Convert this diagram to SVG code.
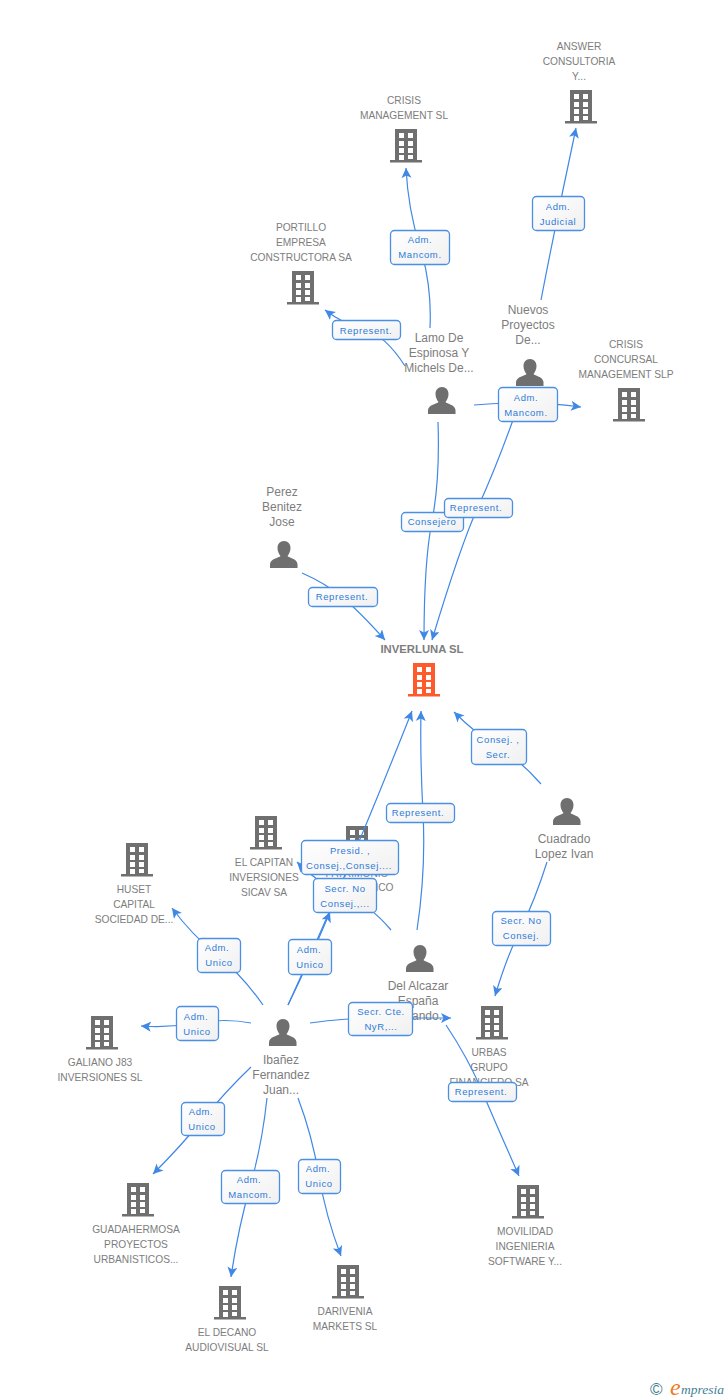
<svg xmlns="http://www.w3.org/2000/svg" xmlns:xlink="http://www.w3.org/1999/xlink" width="728" height="1400" viewBox="0 0 728 1400">
<style>
.l{font-family:"Liberation Sans",Arial,sans-serif;font-size:10.2px;fill:#7d7d7d;text-anchor:middle}
.p{font-family:"Liberation Sans",Arial,sans-serif;font-size:12px;fill:#7d7d7d;text-anchor:middle}
.e{fill:none;stroke:#3f88e6;stroke-width:1.2;marker-end:url(#a)}
.b{fill:url(#g);stroke:#4a8fe6;stroke-width:1.3}
.t{font-family:"Liberation Sans",Arial,sans-serif;font-size:9.5px;letter-spacing:.6px;fill:#2f7bd9;text-anchor:middle}
</style>
<defs>
<linearGradient id="g" x1="0" y1="0" x2="1" y2="1"><stop offset="0" stop-color="#fff"/><stop offset="1" stop-color="#f0f0f0"/></linearGradient>
<marker id="a" markerUnits="userSpaceOnUse" markerWidth="12" markerHeight="12" refX="10" refY="5" orient="auto"><path d="M0 0L10 5L0 10L2.5 5Z" fill="#3f88e6"/></marker>
<symbol id="bld" overflow="visible"><path fill-rule="evenodd" d="M5 0H27V31H32V33.500H0V31H5ZM9 4V9H14V4ZM18 4V9H23V4ZM9 12V17H14V12ZM18 12V17H23V12ZM9 19V24H14V19ZM18 19V24H23V19ZM9 26V31H14V26ZM18 26V30H23V26Z"/></symbol>
<symbol id="per" overflow="visible"><path d="M14 0C18 0 20.500 3 20.500 7C20.500 10.500 19 13 17.500 15C19 17 27 17.500 27.500 23V27H0V23C.5 17.500 9 17 10.500 15C9 13 7.500 10.500 7.500 7C7.500 3 10 0 14 0Z" fill="#6f6f6f"/></symbol>
</defs>
<rect width="728" height="1400" fill="#fff"/>
<g id="labels-under">
<g id="n-hidden"><use href="#bld" x="341" y="826" fill="#6f6f6f"/><text class="l"><tspan x="357" y="877">PATRIMONIO</tspan><tspan x="357" y="891">GRUPO UNICO</tspan></text></g>
<g id="n-alcazar"><use href="#per" x="406" y="945"/><text class="p"><tspan x="418" y="990">Del Alcazar</tspan><tspan x="418" y="1005">España</tspan><tspan x="418" y="1020">Fernando...</tspan></text></g>
<g id="n-urbas"><use href="#bld" x="476" y="1006" fill="#6f6f6f"/><text class="l"><tspan x="489" y="1056">URBAS</tspan><tspan x="489" y="1071">GRUPO</tspan><tspan x="489" y="1086">FINANCIERO SA</tspan></text></g>
<g id="n-capitan"><use href="#bld" x="250" y="816" fill="#6f6f6f"/><text class="l"><tspan x="264" y="866">EL CAPITAN</tspan><tspan x="264" y="881">INVERSIONES</tspan><tspan x="264" y="896">SICAV SA</tspan></text></g>
<g id="n-nuevos"><use href="#per" x="516" y="359"/><text class="p"><tspan x="528" y="314">Nuevos</tspan><tspan x="528" y="329">Proyectos</tspan><tspan x="528" y="344">De...</tspan></text></g>
</g>
<g id="connectors">
<path class="e" d="M541 300Q558 212 576 128"/>
<path class="e" d="M430 328Q432 285 420 247T406 168"/>
<path class="e" d="M405 366Q385 335 365 330T325 310"/>
<path class="e" d="M474 405Q527 400 581 407"/>
<path class="e" d="M438 422Q440 480 432 521T424 640"/>
<path class="e" d="M513 420Q495 470 478 507T432 640"/>
<path class="e" d="M302 573Q325 583 342 597T385 640"/>
<path class="e" d="M541 784Q520 760 498 747T454 712"/>
<path class="e" d="M417 930Q426 870 423 813T421 711"/>
<path class="e" d="M288 1005Q345 880 412 711"/>
<path class="e" d="M288 1005Q310 960 330 912"/>
<path class="e" d="M391 930Q370 905 345 895T297 862"/>
<path class="e" d="M547 862Q535 900 521 928T495 996"/>
<path class="e" d="M310 1023Q345 1018 380 1018T451 1018"/>
<path class="e" d="M446 1025Q468 1058 482 1091T519 1176"/>
<path class="e" d="M263 1005Q242 975 217 955T172 908"/>
<path class="e" d="M251 1023Q225 1018 197 1023T141 1026"/>
<path class="e" d="M251 1067Q225 1092 203 1119T153 1174"/>
<path class="e" d="M267 1098Q262 1145 250 1187T231 1277"/>
<path class="e" d="M298 1098Q312 1135 319 1176T341 1256"/>
</g>
<g id="n-answer"><use href="#bld" x="565" y="90" fill="#6f6f6f"/><text class="l"><tspan x="579" y="50">ANSWER</tspan><tspan x="579" y="65">CONSULTORIA</tspan><tspan x="579" y="80">Y...</tspan></text></g>
<g id="n-crisis"><use href="#bld" x="390" y="129" fill="#6f6f6f"/><text class="l"><tspan x="404" y="104">CRISIS</tspan><tspan x="404" y="119">MANAGEMENT SL</tspan></text></g>
<g id="n-portillo"><use href="#bld" x="287" y="271" fill="#6f6f6f"/><text class="l"><tspan x="301" y="231">PORTILLO</tspan><tspan x="301" y="246">EMPRESA</tspan><tspan x="301" y="261">CONSTRUCTORA SA</tspan></text></g>
<g id="n-concursal"><use href="#bld" x="613" y="388" fill="#6f6f6f"/><text class="l"><tspan x="626" y="348">CRISIS</tspan><tspan x="626" y="363">CONCURSAL</tspan><tspan x="626" y="378">MANAGEMENT SLP</tspan></text></g>
<g id="n-lamo"><use href="#per" x="428" y="387"/><text class="p"><tspan x="439" y="342">Lamo De</tspan><tspan x="439" y="357">Espinosa Y</tspan><tspan x="439" y="372">Michels De...</tspan></text></g>
<g id="n-perez"><use href="#per" x="270" y="541"/><text class="p"><tspan x="282" y="496">Perez</tspan><tspan x="282" y="511">Benitez</tspan><tspan x="282" y="526">Jose</tspan></text></g>
<g id="n-inverluna"><use href="#bld" x="408" y="663" fill="#ff5a2b"/><text class="l" style="font-weight:bold;font-size:11.300px"><tspan x="422" y="653">INVERLUNA SL</tspan></text></g>
<g id="n-cuadrado"><use href="#per" x="553" y="798"/><text class="p"><tspan x="564" y="843">Cuadrado</tspan><tspan x="564" y="858">Lopez Ivan</tspan></text></g>
<g id="n-huset"><use href="#bld" x="121" y="843" fill="#6f6f6f"/><text class="l"><tspan x="134" y="893">HUSET</tspan><tspan x="134" y="908">CAPITAL</tspan><tspan x="134" y="923">SOCIEDAD DE...</tspan></text></g>
<g id="n-ibanez"><use href="#per" x="269" y="1019"/><text class="p"><tspan x="281" y="1064">Ibañez</tspan><tspan x="281" y="1079">Fernandez</tspan><tspan x="281" y="1094">Juan...</tspan></text></g>
<g id="n-galiano"><use href="#bld" x="86" y="1016" fill="#6f6f6f"/><text class="l"><tspan x="100" y="1066">GALIANO J83</tspan><tspan x="100" y="1081">INVERSIONES SL</tspan></text></g>
<g id="n-guada"><use href="#bld" x="122" y="1183" fill="#6f6f6f"/><text class="l"><tspan x="136" y="1233">GUADAHERMOSA</tspan><tspan x="136" y="1248">PROYECTOS</tspan><tspan x="136" y="1263">URBANISTICOS...</tspan></text></g>
<g id="n-decano"><use href="#bld" x="214" y="1286" fill="#6f6f6f"/><text class="l"><tspan x="227" y="1336">EL DECANO</tspan><tspan x="227" y="1351">AUDIOVISUAL SL</tspan></text></g>
<g id="n-darivenia"><use href="#bld" x="332" y="1265" fill="#6f6f6f"/><text class="l"><tspan x="345" y="1315">DARIVENIA</tspan><tspan x="345" y="1330">MARKETS SL</tspan></text></g>
<g id="n-movilidad"><use href="#bld" x="512" y="1185" fill="#6f6f6f"/><text class="l"><tspan x="525" y="1235">MOVILIDAD</tspan><tspan x="525" y="1250">INGENIERIA</tspan><tspan x="525" y="1265">SOFTWARE Y...</tspan></text></g>
<g id="edge-labels">
<rect class="b" x="532.500" y="196.500" width="52" height="34" rx="4"/><text class="t"><tspan x="558" y="210">Adm.</tspan><tspan x="558" y="225">Judicial</tspan></text>
<rect class="b" x="390.500" y="230.500" width="59" height="34" rx="4"/><text class="t"><tspan x="420" y="243">Adm.</tspan><tspan x="420" y="258">Mancom.</tspan></text>
<rect class="b" x="332.500" y="320.500" width="68" height="19" rx="4"/><text class="t"><tspan x="366" y="334">Represent.</tspan></text>
<rect class="b" x="498.500" y="387.500" width="59" height="34" rx="4"/><text class="t"><tspan x="526" y="401">Adm.</tspan><tspan x="526" y="416">Mancom.</tspan></text>
<rect class="b" x="401.500" y="512.500" width="62" height="19" rx="4"/><text class="t"><tspan x="432" y="525">Consejero</tspan></text>
<rect class="b" x="444.500" y="498.500" width="68" height="19" rx="4"/><text class="t"><tspan x="476" y="511">Represent.</tspan></text>
<rect class="b" x="308.500" y="587.500" width="69" height="19" rx="4"/><text class="t"><tspan x="342" y="600">Represent.</tspan></text>
<rect class="b" x="471.500" y="729.500" width="55" height="35" rx="4"/><text class="t"><tspan x="498" y="743">Consej. ,</tspan><tspan x="498" y="758">Secr.</tspan></text>
<rect class="b" x="386.500" y="803.500" width="68" height="19" rx="4"/><text class="t"><tspan x="418" y="816">Represent.</tspan></text>
<rect class="b" x="301.500" y="840.500" width="97" height="34" rx="4"/><text class="t"><tspan x="350" y="854">Presid. ,</tspan><tspan x="349" y="869">Consej.,Consej....</tspan></text>
<rect class="b" x="313.500" y="878.500" width="63" height="34" rx="4"/><text class="t"><tspan x="345" y="892">Secr. No</tspan><tspan x="345" y="907">Consej.,...</tspan></text>
<rect class="b" x="288.500" y="939.500" width="43" height="35" rx="4"/><text class="t"><tspan x="309" y="953">Adm.</tspan><tspan x="310" y="968">Unico</tspan></text>
<rect class="b" x="197.500" y="938.500" width="43" height="34" rx="4"/><text class="t"><tspan x="217" y="951">Adm.</tspan><tspan x="219" y="966">Unico</tspan></text>
<rect class="b" x="176.500" y="1006.500" width="42" height="34" rx="4"/><text class="t"><tspan x="196" y="1020">Adm.</tspan><tspan x="197" y="1035">Unico</tspan></text>
<rect class="b" x="348.500" y="1002.500" width="64" height="33" rx="4"/><text class="t"><tspan x="381" y="1015">Secr. Cte.</tspan><tspan x="381" y="1030">NyR,...</tspan></text>
<rect class="b" x="492.500" y="911.500" width="58" height="34" rx="4"/><text class="t"><tspan x="521" y="924">Secr. No</tspan><tspan x="521" y="939">Consej.</tspan></text>
<rect class="b" x="448.500" y="1082.500" width="68" height="19" rx="4"/><text class="t"><tspan x="481" y="1095">Represent.</tspan></text>
<rect class="b" x="181.500" y="1102.500" width="43" height="33" rx="4"/><text class="t"><tspan x="201" y="1115">Adm.</tspan><tspan x="202" y="1130">Unico</tspan></text>
<rect class="b" x="221.500" y="1170.500" width="58" height="33" rx="4"/><text class="t"><tspan x="249" y="1183">Adm.</tspan><tspan x="250" y="1198">Mancom.</tspan></text>
<rect class="b" x="298.500" y="1159.500" width="42" height="34" rx="4"/><text class="t"><tspan x="318" y="1172">Adm.</tspan><tspan x="319" y="1187">Unico</tspan></text>
</g>
<g id="credit"><text x="650" y="1395" style="font-family:'Liberation Sans',sans-serif;font-size:17px;fill:#3f7f93">©</text><text x="670" y="1395" style="font-family:'Liberation Serif',serif;font-style:italic;font-size:24px;fill:#f07a1a">e</text><text x="681" y="1394" style="font-family:'Liberation Serif',serif;font-style:italic;font-size:13.500px;fill:#3f7f93">mpresia</text></g>
</svg>
